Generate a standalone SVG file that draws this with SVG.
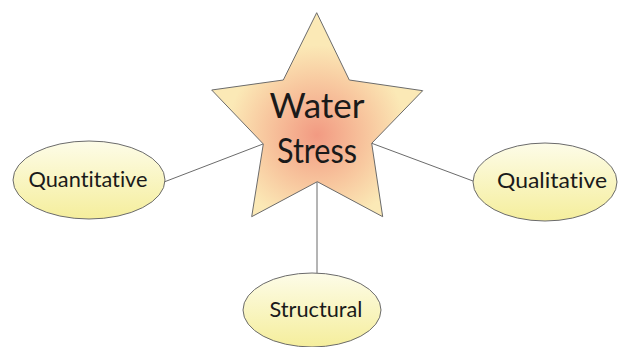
<svg xmlns="http://www.w3.org/2000/svg" width="622" height="347" viewBox="0 0 622 347">
<defs>
<radialGradient id="starG" cx="317" cy="135" r="90" gradientUnits="userSpaceOnUse">
<stop offset="0" stop-color="#f29a82"/>
<stop offset="0.6" stop-color="#f8c9a0"/>
<stop offset="1" stop-color="#fbe9b6"/>
</radialGradient>
<linearGradient id="ellG" x1="0" y1="0" x2="0" y2="1">
<stop offset="0" stop-color="#fdfce8"/>
<stop offset="1" stop-color="#f5ee9c"/>
</linearGradient>
<style>
.ell{fill:url(#ellG);stroke:#6b6b6b;stroke-width:1}
.lbl{font-family:Lato,"DejaVu Sans",sans-serif;font-size:21px;fill:#1a1a1a;text-anchor:middle;font-variant-ligatures:none}
.big{font-family:Lato,"DejaVu Sans",sans-serif;font-size:35px;fill:#1a1a1a;text-anchor:middle;font-variant-ligatures:none}
.con{stroke:#6b6b6b;stroke-width:1;fill:none}
</style>
</defs>
<rect width="622" height="347" fill="#ffffff"/>
<g id="connectors">
<line class="con" x1="164" y1="182" x2="263" y2="144"/>
<line class="con" x1="371" y1="143" x2="473" y2="181"/>
<line class="con" x1="317" y1="182" x2="317" y2="273"/>
</g>
<g id="water-stress">
<polygon points="316.7,12.7 349.3,80 422.7,90.7 371.7,143.3 382.7,216.7 317.3,181.7 251.7,216.7 263.3,144 211.7,90 283.3,80" fill="url(#starG)" stroke="#6b6b6b" stroke-width="1"/>
<text class="big" x="317" y="118">Water</text>
<text class="big" x="317" y="163" textLength="80" lengthAdjust="spacingAndGlyphs">Stress</text>
</g>
<g id="quantitative">
<ellipse class="ell" cx="89" cy="180" rx="76" ry="39"/>
<text class="lbl" x="88" y="187" textLength="119" lengthAdjust="spacingAndGlyphs">Quantitative</text>
</g>
<g id="qualitative">
<ellipse class="ell" cx="545" cy="182" rx="72" ry="39"/>
<text class="lbl" x="552" y="188" textLength="110" lengthAdjust="spacingAndGlyphs">Qualitative</text>
</g>
<g id="structural">
<ellipse class="ell" cx="312" cy="310" rx="69" ry="37"/>
<text class="lbl" x="316" y="317" textLength="93" lengthAdjust="spacingAndGlyphs">Structural</text>
</g>
</svg>
